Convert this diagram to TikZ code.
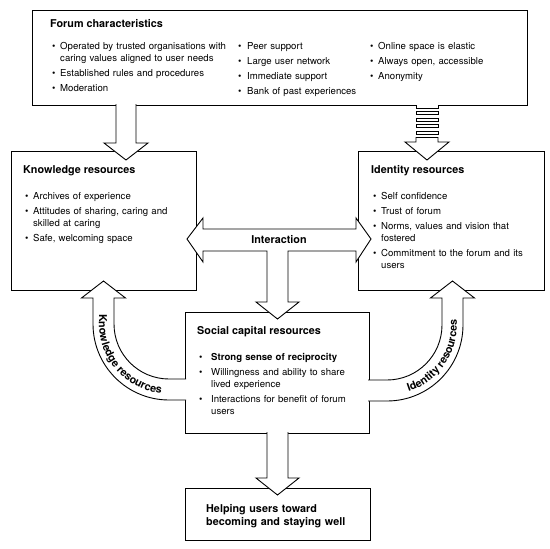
\documentclass[tikz,border=0pt]{standalone}
\usepackage{fontspec}
\setmainfont{TeX Gyre Heros}
\usetikzlibrary{decorations.text}
\newcommand\ttlf{\fontsize{10.8}{13}\selectfont\bfseries}
\newcommand\bodyf{\fontsize{9.6}{12}\selectfont}
\newcommand\bitem[2][8pt]{\hangindent=#1\hangafter=1\noindent\makebox[#1][l]{\textbullet}#2\par}
\newcommand\lstart{\setlength{\parskip}{3pt}\setlength{\parindent}{0pt}}
\tikzset{
  box/.style={draw, line width=0.9pt, rectangle, inner sep=0pt, anchor=north west},
  blk/.style={draw, line width=0.9pt, fill=white, line join=miter},
  ttl/.style={font=\ttlf, anchor=base west, inner sep=0pt},
  lst/.style={font=\bodyf, anchor=base west, inner sep=0pt, text width=220pt, align=left},
  curvetext/.style={decorate, decoration={text along path, text align=left, text={|\ttlf|#1}}}
}
\begin{document}
\begin{tikzpicture}[x=1pt,y=1pt]
\useasboundingbox[fill=white] (0,0) rectangle (550,-549);
% boxes
\draw[line width=0.9pt] (32,-10) -- (527,-10) -- (527,-105) -- (438,-105) -- (438,-108) -- (416,-108) -- (416,-105) -- (32,-105) -- cycle;
\node[box, minimum width=185pt, minimum height=139pt] (know) at (11,-151) {};
\node[box, minimum width=186pt, minimum height=139pt] (ident) at (358,-151) {};
\node[box, minimum width=184pt, minimum height=121pt] (social) at (185,-312) {};
\node[box, minimum width=185pt, minimum height=52pt] (help) at (185,-488) {};
% forum text
\node[ttl] (ftitle) at (50,-27) {Forum characteristics};
\node[lst] (fc1) at (52,-49.5) {\lstart\bitem{Operated by trusted organisations with\newline caring values aligned to user needs}\bitem{Established rules and procedures}\bitem{Moderation}};
\node[lst] (fc2) at (238,-49.5) {\lstart\bitem[9pt]{Peer support}\bitem[9pt]{Large user network}\bitem[9pt]{Immediate support}\bitem[9pt]{Bank of past experiences}};
\node[lst] (fc3) at (370,-49.5) {\lstart\bitem{Online space is elastic}\bitem{Always open, accessible}\bitem{Anonymity}};
% knowledge
\node[ttl] (ktitle) at (23,-173) {Knowledge resources};
\node[lst] (klist) at (25,-199.5) {\lstart\bitem{Archives of experience}\bitem{Attitudes of sharing, caring and\newline skilled at caring}\bitem{Safe, welcoming space}};
% identity
\node[ttl] (ititle) at (371,-173) {Identity resources};
\node[lst] (ilist) at (373,-199.5) {\lstart\bitem{Self confidence}\bitem{Trust of forum}\bitem{Norms, values and vision that\newline fostered}\bitem{Commitment to the forum and its\newline users}};
% social
\node[ttl] (stitle) at (197,-334) {Social capital resources};
\node[lst] (slist) at (199,-360.5) {\lstart\bitem[12pt]{{\bfseries Strong sense of reciprocity}}\bitem[12pt]{Willingness and ability to share\newline lived experience}\bitem[12pt]{Interactions for benefit of forum\newline users}};
% helping
\node[ttl, text width=170pt, align=left] (htext) at (206,-512) {Helping users toward\newline becoming and staying well};
% arrows from forum
\draw[blk] (116,-104) -- (116,-143) -- (104,-143) -- (126,-160) -- (148,-143) -- (136,-143) -- (136,-104);
\foreach \a in {111.5,118,124.5,131}{\draw[blk] (416,-\a) rectangle (438,-\a-3);}
\draw[blk] (416,-137.5) -- (416,-142) -- (405,-142) -- (427,-160) -- (449,-142) -- (438,-142) -- (438,-137.5) -- cycle;
% interaction arrow
\draw[blk] (187,-239) -- (203,-218) -- (203,-229) -- (356,-229) -- (356,-218) -- (371,-239) -- (356,-262) -- (356,-251) -- (288,-251) -- (288,-302) -- (299,-302) -- (277.5,-319) -- (256,-302) -- (267,-302) -- (267,-251) -- (203,-251) -- (203,-262) -- cycle;
\node[font=\ttlf, inner sep=0pt] (inter) at (279,-240) {Interaction};
% bottom arrow
\draw[blk] (267,-432) -- (267,-478) -- (256,-478) -- (277.5,-495) -- (299,-478) -- (288,-478) -- (288,-432);
% curved knowledge arrow
\draw[blk] (186,-379) -- (169,-379) arc[start angle=270, end angle=180, radius=55] -- (114,-298) -- (125.5,-298) -- (103.5,-281) -- (81.5,-298) -- (93,-298) -- (93,-324) arc[start angle=180, end angle=270, radius=76] -- (186,-400);
\path[curvetext={Knowledge resources}] (99,-314) -- (99,-324) arc[start angle=180, end angle=270, radius=70] -- (210,-394);
% curved identity arrow
\draw[blk] (368,-380) -- (387,-380) arc[start angle=270, end angle=360, radius=55] -- (442,-298) -- (430.5,-298) -- (452.5,-281) -- (474.5,-298) -- (463,-298) -- (463,-325) arc[start angle=0, end angle=-90, radius=76] -- (368,-401);
\path[curvetext={Identity resources}] (408.6,-391.6) arc[start angle=288, end angle=360, radius=70] -- (457,-290);
\end{tikzpicture}
\end{document}
